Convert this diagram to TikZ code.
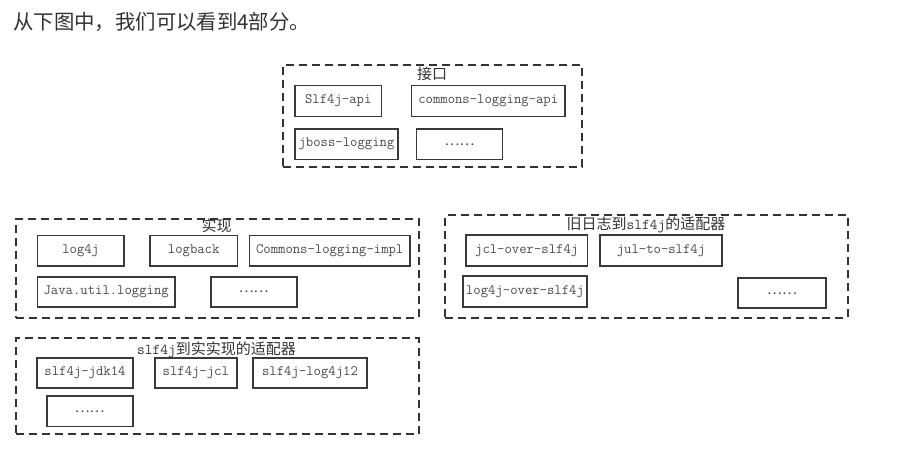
\documentclass[tikz,border=0pt]{standalone}
\usepackage{fontspec}
\newfontfamily\cjk{Noto Sans CJK SC}
\definecolor{frame}{HTML}{333333}
\definecolor{boxline}{HTML}{3A3A3A}
\definecolor{boxtext}{HTML}{4A4A4A}
\definecolor{head}{HTML}{333333}
\tikzset{
  group/.style={draw=frame, line width=2pt, dash pattern=on 8pt off 5pt, inner sep=0pt},
  item/.style={draw=boxline, line width=1.7pt, inner sep=0pt, text=boxtext, font=\fontsize{14.3}{16}\ttfamily},
  dots/.style={item, font=\fontsize{14}{16}\cjk},
  grouptitle/.style={text=head, inner sep=0pt, font=\fontsize{15}{17}\cjk},
  headline/.style={text=head, inner sep=0pt, anchor=west, font=\fontsize{20.4}{24}\cjk}
}
\begin{document}
\begin{tikzpicture}[x=1pt,y=-1pt]
\useasboundingbox[fill=white] (0,0) rectangle (910,472);

\node[headline] (head) at (13,22) {从下图中，我们可以看到4部分。};

% group 1: interfaces
\node[group, minimum width=299pt, minimum height=102pt] (g1) at (432,115.5) {};
\node[grouptitle] (t1) at (432,74) {接口};
\node[item, minimum width=86.5pt, minimum height=31pt] (a1) at (338.25,101) {Slf4j-api};
\node[item, minimum width=153.5pt, minimum height=31pt] (a2) at (488.25,101) {commons-logging-api};
\node[item, minimum width=103pt, minimum height=30.5pt] (a3) at (346.5,144.25) {jboss-logging};
\node[dots, minimum width=86pt, minimum height=30.5pt] (a4) at (459.5,144.25) {……};

% group 2: implementations
\node[group, minimum width=402.5pt, minimum height=99pt] (g2) at (217.25,268) {};
\node[grouptitle] (t2) at (216.7,226) {实现};
\node[item, minimum width=86.7pt, minimum height=30.5pt] (b1) at (80.7,250.8) {log4j};
\node[item, minimum width=87.3pt, minimum height=30.5pt] (b2) at (193.7,250.8) {logback};
\node[item, minimum width=160.7pt, minimum height=30.5pt] (b3) at (329.7,250.8) {Commons-logging-impl};
\node[item, minimum width=137.7pt, minimum height=30.6pt] (b4) at (106.2,292) {Java.util.logging};
\node[dots, minimum width=86pt, minimum height=30.6pt] (b5) at (253.7,292) {……};

% group 3: slf4j to implementation adapters
\node[group, minimum width=402.5pt, minimum height=96pt] (g3) at (217.25,386.4) {};
\node[grouptitle] (t3) at (216.5,350) {{\ttfamily slf4j}到实实现的适配器};
\node[item, minimum width=95.4pt, minimum height=30.6pt] (c1) at (85,373) {slf4j-jdk14};
\node[item, minimum width=81.7pt, minimum height=30.6pt] (c2) at (195.8,373) {slf4j-jcl};
\node[item, minimum width=113.4pt, minimum height=30.6pt] (c3) at (310,373) {slf4j-log4j12};
\node[dots, minimum width=86pt, minimum height=30.6pt] (c4) at (89.7,411.3) {……};

% group 4: legacy logging to slf4j adapters
\node[group, minimum width=402.5pt, minimum height=102.5pt] (g4) at (646.25,266.25) {};
\node[grouptitle] (t4) at (646,225) {旧日志到{\ttfamily slf4j}的适配器};
\node[item, minimum width=121.3pt, minimum height=31pt] (d1) at (526.7,250.5) {jcl-over-slf4j};
\node[item, minimum width=122pt, minimum height=31pt] (d2) at (661,250.5) {jul-to-slf4j};
\node[item, minimum width=124.6pt, minimum height=30.7pt] (d3) at (525,291.3) {log4j-over-slf4j};
\node[dots, minimum width=87.4pt, minimum height=30pt] (d4) at (782,293.3) {……};
\end{tikzpicture}
\end{document}
